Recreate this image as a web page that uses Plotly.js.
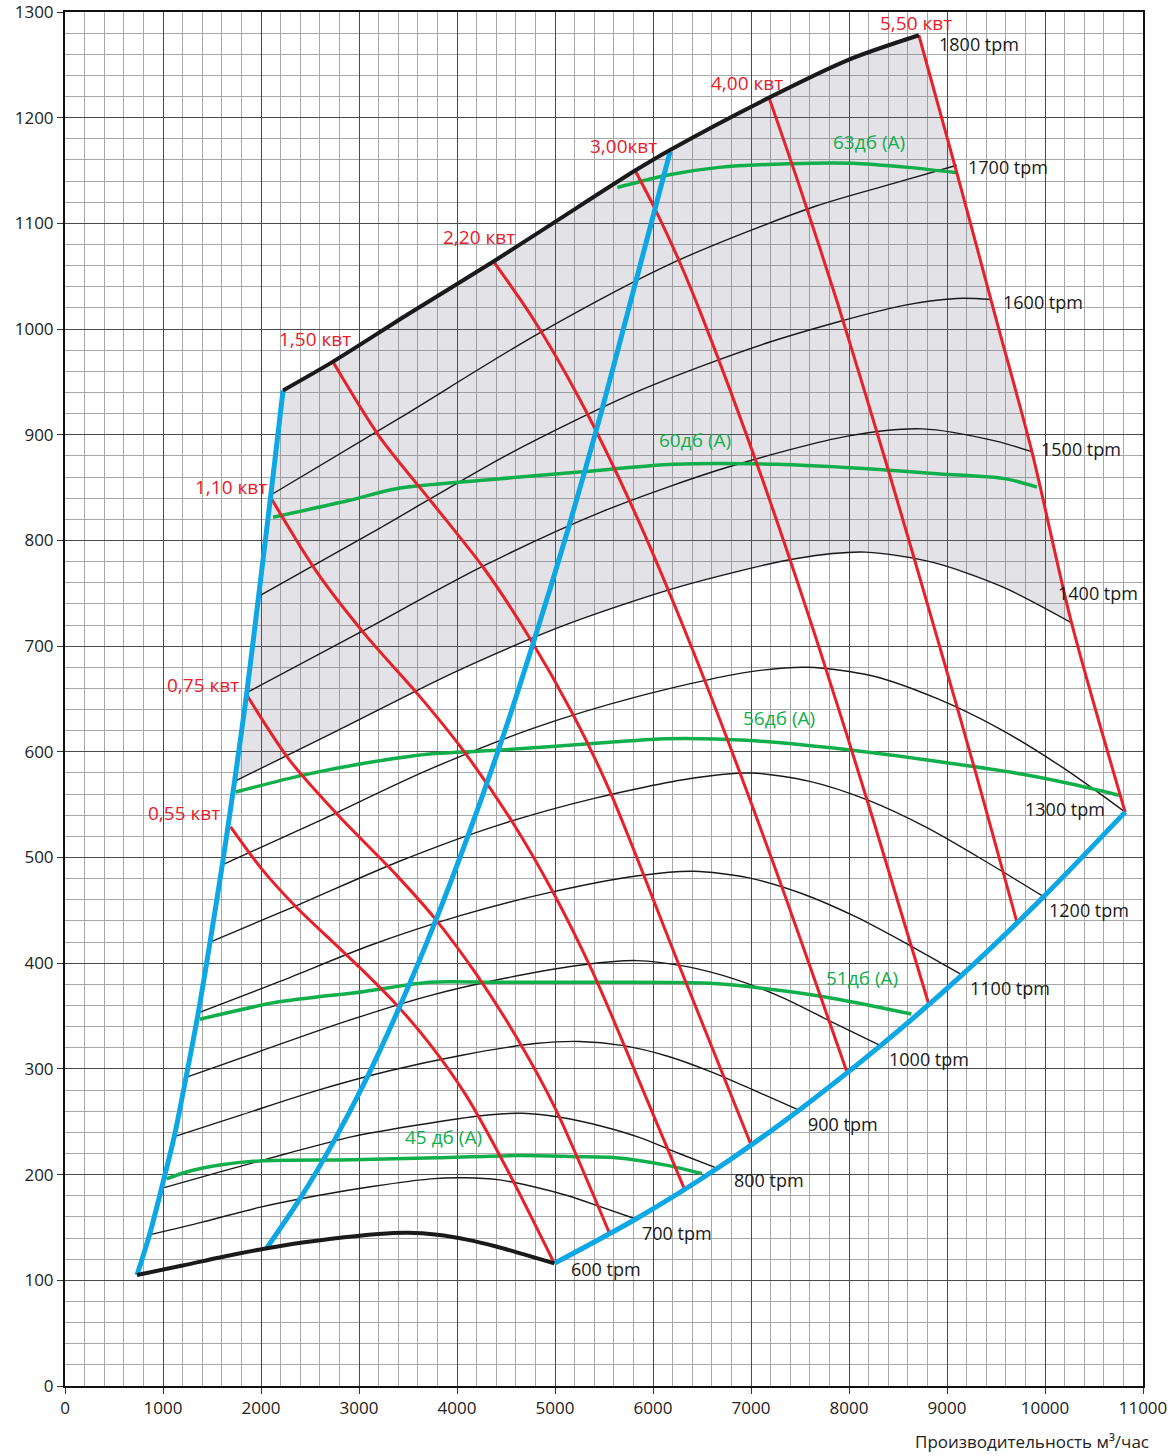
<!DOCTYPE html>
<html><head><meta charset="utf-8">
<script src="https://cdn.plot.ly/plotly-3.0.1.min.js"></script>
<style>body{margin:0;background:#fff}#chart{width:1176px;height:1456px}</style>
</head><body><div id="chart"></div>
<script>
// ---- fan speed curves (Q m3/h, P Pa) ----
const q600 = [735, 1200, 1700, 2200, 2700, 3200, 3500, 3800, 4100, 4400, 4700, 4993];
const p600 = [105, 114, 124, 132.5, 139, 143.8, 144.9, 143, 138.5, 132, 124, 116];
const q700 = [862, 1400, 1983, 2567, 3150, 3733, 4083, 4433, 4783, 5133, 5483, 5825];
const p700 = [143, 155, 169, 180, 189, 196, 197, 195, 188.5, 180, 169, 158];
const q800 = [985, 1600, 2267, 2933, 3600, 4267, 4667, 5067, 5467, 5867, 6267, 6657];
const p800 = [187, 203, 220, 236, 247, 256, 258, 254, 246, 235, 220, 206];
const q900 = [1115, 1800, 2550, 3300, 4050, 4800, 5250, 5700, 6150, 6600, 7050, 7490];
const p900 = [236, 256.5, 279, 298, 313, 324, 326, 322, 312, 297, 279, 261];
const q1000 = [1235, 2000, 2833, 3667, 4500, 5333, 5833, 6333, 6833, 7333, 7833, 8322];
const p1000 = [292, 317, 344, 368, 386, 399, 402.5, 397, 385, 367, 344, 322];
const q1100 = [1360, 2200, 3117, 4033, 4950, 5867, 6417, 6967, 7517, 8067, 8617, 9154];
const p1100 = [353, 383, 417, 445, 467, 483, 487, 481, 466, 444, 417, 389];
const q1200 = [1480, 2400, 3400, 4400, 5400, 6400, 7000, 7600, 8200, 8800, 9400, 9986];
const p1200 = [420, 456, 496, 530, 556, 575, 580, 572, 554, 528, 496, 463];
const q1300 = [1605, 2600, 3683, 4767, 5850, 6933, 7583, 8233, 8883, 9533, 10183, 10818];
const p1300 = [493, 535, 582, 622, 652.5, 675, 680, 672, 651, 622, 585, 543];
const q1400 = [1730, 2800, 3967, 5133, 6300, 7467, 8167, 8867, 9567, 10271];
const p1400 = [572, 621, 675, 721, 757, 783, 789, 779, 756, 722];
const q1500 = [1855, 3000, 4250, 5500, 6750, 8000, 8750, 9500, 9864];
const p1500 = [656, 712.5, 775, 828, 869, 899, 905.6, 894, 884];
const q1600 = [1975, 3200, 4533, 5867, 7200, 8533, 9100, 9456];
const p1600 = [747, 811, 882, 942, 988, 1022, 1029, 1028];
const q1700 = [2100, 3400, 4817, 6233, 7650, 8500, 9100];
const p1700 = [843, 915, 995, 1064, 1116, 1139, 1155];
const q1800 = [2225, 2731, 3500, 4372, 4993, 5818, 6165, 7184, 8000, 8713];
const p1800 = [942, 969, 1014, 1064, 1101, 1150, 1169, 1219, 1255, 1278];
const rpmNames = ['600 tpm','700 tpm','800 tpm','900 tpm','1000 tpm','1100 tpm','1200 tpm','1300 tpm','1400 tpm','1500 tpm','1600 tpm','1700 tpm','1800 tpm'];

// ---- system curves (blue) ----
const blueLeftQ = [735, 862, 985, 1115, 1235, 1360, 1480, 1605, 1730, 1855, 1975, 2100, 2225];
const blueLeftP = [105, 143, 187, 236, 292, 353, 420, 493, 572, 656, 747, 843, 942];
const blueMidQ = [2055, 2397, 2740, 3083, 3425, 3768, 4110, 4453, 4795, 5138, 5480, 5822, 6175];
const blueMidP = [130, 177, 231, 292, 361, 437, 520, 610, 708, 812, 924, 1044, 1168];
const blueRightQ = [4993, 5825, 6657, 7490, 8322, 9154, 9986, 10818];
const blueRightP = [116, 158, 206, 261, 322, 389, 463, 543];

// ---- power lines (red) ----
const kw055Q = [1690, 2000, 2361, 2700, 3040, 3380, 3719, 4093, 4500, 4993];
const kw055P = [529, 490, 453, 423, 393, 361, 324, 275, 207, 116];
const kw075Q = [1860, 2293, 2802, 3380, 3788, 4195, 4603, 5000, 5554];
const kw075P = [653, 592, 538.5, 483.6, 440.8, 389.9, 330.7, 263.2, 145];
const kw110Q = [2110, 2565, 3074, 3617, 4059, 4568, 4976, 5350, 5554, 6318];
const kw110P = [839, 770.8, 709.7, 652.7, 601.9, 533.2, 467.9, 398.7, 355.9, 187];
const kw150Q = [2734, 3210, 3753, 4280, 4740, 5180, 5554, 6275, 6997];
const kw150P = [969, 898, 835, 773, 708, 636, 564, 396, 229];
const kw220Q = [4372, 4772, 5248, 5800, 6410, 7200, 7979];
const kw220P = [1064, 1010.5, 934.3, 829.4, 695.2, 501.7, 297];
const kw300Q = [5818, 6029, 6267, 6504, 7100, 7700, 8250, 8815];
const kw300P = [1150, 1112, 1064.4, 1011.1, 862.1, 697.1, 534.8, 361];
const kw400Q = [7184, 7500, 7883, 8400, 8900, 9300, 9710];
const kw400P = [1219, 1133.7, 1024.6, 866.9, 707.9, 577.9, 440];
const kw550Q = [8713, 9100, 9500, 9864, 10271, 10818];
const kw550P = [1278, 1148, 1010, 885, 722, 543];
const kwNames = ['0,55 квт','0,75 квт','1,10 квт','1,50 квт','2,20 квт','3,00квт','4,00 квт','5,50 квт'];

// ---- noise lines (green) ----
const db45Q = [1036, 1240, 1579, 1987, 2938, 3800, 4637, 5200, 5622, 6131, 6500];
const db45P = [196, 202.5, 209, 213, 214, 216, 218, 217, 216, 209, 201];
const db51Q = [1376, 2157, 3040, 3719, 4399, 5554, 6576, 7325, 7887, 8636];
const db51P = [347, 363, 373, 382, 382, 382, 381, 374, 366, 352];
const db56Q = [1740, 2428, 3040, 3719, 4399, 5554, 6126, 6950, 8075, 9197, 9760, 10247, 10753];
const db56P = [562, 578, 589, 598, 601.4, 609, 612.5, 611, 601, 587, 579, 570, 559];
const db60Q = [2123, 2904, 3380, 4262, 5248, 6216, 7262, 8154, 8929, 9588, 9917];
const db60P = [822, 838, 849, 857, 864.7, 872, 872, 868, 863, 858.5, 850.5];
const db63Q = [5636, 6165, 6675, 7383, 8034, 8603, 9100];
const db63P = [1134, 1146, 1153, 1156.5, 1157, 1153, 1148];
const dbNames = ['45 дб (А)','51дб (А)','56дб (А)','60дб (А)','63дб (А)'];

const xTicks = [0,1000,2000,3000,4000,5000,6000,7000,8000,9000,10000,11000];
const yTicks = [0,100,200,300,400,500,600,700,800,900,1000,1100,1200,1300];
const xTitle = 'Производительность м³/час';

// ---------------- build ----------------
const BLACK = '#1a1a1a', BLUE = '#0ca7e4', RED = '#e8202a', GREEN = '#12ae4b';
const FONT = 'Open Sans, Noto Sans, sans-serif';
const traces = [];
function line(x, y, color, width) {
  traces.push({x: x, y: y, type: 'scatter', mode: 'lines', hoverinfo: 'skip', cliponaxis: false,
    line: {color: color, width: width, shape: 'spline', smoothing: 0.8}});
}

// shaded working area: 1800 curve -> 5.5 kW line -> 1400 curve (back) -> left system curve
const fillX = q1800.concat(kw550Q.slice(1, 5), q1400.slice(0, -1).reverse(), blueLeftQ.slice(9));
const fillY = p1800.concat(kw550P.slice(1, 5), p1400.slice(0, -1).reverse(), blueLeftP.slice(9));
traces.push({x: fillX, y: fillY, type: 'scatter', mode: 'none', fill: 'toself',
  fillcolor: 'rgba(110,110,135,0.2)', hoverinfo: 'skip'});

const rpmQ = [q600,q700,q800,q900,q1000,q1100,q1200,q1300,q1400,q1500,q1600,q1700,q1800];
const rpmP = [p600,p700,p800,p900,p1000,p1100,p1200,p1300,p1400,p1500,p1600,p1700,p1800];
for (let i = 1; i < 12; i++) line(rpmQ[i], rpmP[i], BLACK, 1.4);

const dbQ = [db45Q, db51Q, db56Q, db60Q, db63Q];
const dbP = [db45P, db51P, db56P, db60P, db63P];
dbQ.forEach((q, i) => line(q, dbP[i], GREEN, 3.5));

const kwQ = [kw055Q,kw075Q,kw110Q,kw150Q,kw220Q,kw300Q,kw400Q,kw550Q];
const kwP = [kw055P,kw075P,kw110P,kw150P,kw220P,kw300P,kw400P,kw550P];
kwQ.forEach((q, i) => line(q, kwP[i], RED, 3));

line(blueLeftQ, blueLeftP, BLUE, 5);
line(blueMidQ, blueMidP, BLUE, 5);
line(blueRightQ, blueRightP, BLUE, 5);

line(q600, p600, BLACK, 4);
line(q1800, p1800, BLACK, 4);

// labels (positions in data units)
const annotations = [];
const rpmPos = [[5146,111],[5869,145],[6807,195],[7561,248],[8386,309],[9212,377],[10017,450],[9772,546],[10108,750],[9935,887],[9548,1026],[9191,1153],[8896,1270]];
rpmNames.forEach((t, i) => annotations.push({x: rpmPos[i][0], y: rpmPos[i][1], text: t, showarrow: false,
  xanchor: 'left', yanchor: 'middle', font: {family: FONT, size: 18, color: BLACK}}));
const kwPos = [[1213,542],[1406,663],[1692,851],[2548,991],[4229,1087],[5696,1173],[6960,1233],[8682,1290]];
kwNames.forEach((t, i) => annotations.push({x: kwPos[i][0], y: kwPos[i][1], text: t, showarrow: false,
  xanchor: 'center', yanchor: 'middle', font: {family: FONT, size: 19, color: RED}}));
const dbPos = [[3862,236],[8132,386],[7286,632],[6430,895],[8203,1177]];
dbNames.forEach((t, i) => annotations.push({x: dbPos[i][0], y: dbPos[i][1], text: t, showarrow: false,
  xanchor: 'center', yanchor: 'middle', font: {family: FONT, size: 19, color: GREEN}}));
annotations.push({xref: 'paper', yref: 'paper', x: 1, y: 0, xanchor: 'right', yanchor: 'top',
  xshift: 8, yshift: -42, text: xTitle, showarrow: false, font: {family: FONT, size: 17, color: '#222'}});

const axisCommon = {
  showline: true, mirror: true, linecolor: '#111', linewidth: 2,
  ticks: 'outside', ticklen: 6, tickcolor: '#333', tickwidth: 1,
  showgrid: true, gridcolor: '#4a4a4a', gridwidth: 1, zeroline: false,
  ticklabeloverflow: 'allow',
  tickfont: {family: FONT, size: 17, color: '#222'}, fixedrange: true
};
const layout = {
  width: 1176, height: 1456, paper_bgcolor: '#fff', plot_bgcolor: '#fff',
  margin: {l: 65, r: 33, t: 12, b: 70}, showlegend: false, hovermode: false,
  xaxis: Object.assign({}, axisCommon, {range: [0, 11000], tickvals: xTicks, ticktext: xTicks.map(String),
    minor: {dtick: 200, tick0: 0, showgrid: true, gridcolor: '#a8a8a8', gridwidth: 1, ticks: ''}}),
  yaxis: Object.assign({}, axisCommon, {range: [0, 1300.01], tickvals: yTicks, ticktext: yTicks.map(String),
    minor: {dtick: 20, tick0: 0, showgrid: true, gridcolor: '#a8a8a8', gridwidth: 1, ticks: ''}}),
  annotations: annotations
};
Plotly.newPlot('chart', traces, layout, {displayModeBar: false, staticPlot: true});
</script></body></html>
